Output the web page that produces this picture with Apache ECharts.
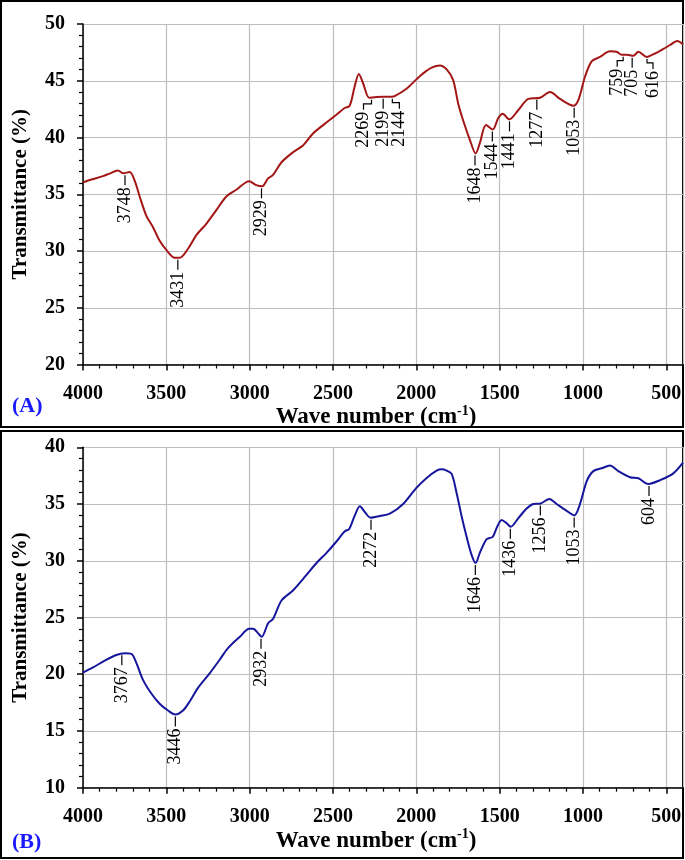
<!DOCTYPE html>
<html>
<head>
<meta charset="utf-8">
<script src="https://cdn.jsdelivr.net/npm/echarts@6/dist/echarts.min.js"></script>
<style>
html,body{margin:0;padding:0;background:#fff;}
#c{width:685px;height:860px;}
</style>
</head>
<body>
<div id="c"></div>
<script>
// ---- Data ----
// Panel A
const wnA = [4000, 3950, 3880, 3844, 3790, 3760, 3720, 3690, 3660, 3620, 3580, 3540, 3500, 3450, 3420, 3370, 3320, 3260, 3200, 3140, 3080, 3003, 2960, 2925, 2890, 2860, 2810, 2740, 2680, 2620, 2550, 2480, 2430, 2400, 2370, 2345, 2320, 2283, 2250, 2200, 2150, 2130, 2059, 2001, 1959, 1908, 1859, 1818, 1779, 1749, 1719, 1679, 1644, 1619, 1582, 1542, 1509, 1482, 1442, 1389, 1328, 1258, 1198, 1138, 1058, 1028, 988, 948, 898, 838, 798, 768, 738, 698, 668, 618, 568, 518, 478, 434, 400];
const tA = [36.05, 36.3, 36.6, 36.8, 37.1, 36.85, 36.95, 36.2, 34.8, 33.1, 32.1, 30.9, 30.1, 29.4, 29.4, 30.2, 31.4, 32.4, 33.6, 34.8, 35.4, 36.15, 35.8, 35.7, 36.4, 36.7, 37.8, 38.7, 39.3, 40.35, 41.2, 42.0, 42.6, 42.8, 44.5, 45.6, 44.8, 43.5, 43.55, 43.6, 43.6, 43.65, 44.3, 45.1, 45.65, 46.15, 46.35, 46.0, 45.06, 43.0, 41.5, 39.8, 38.6, 39.5, 41.1, 40.7, 41.7, 42.1, 41.6, 42.4, 43.4, 43.5, 44.0, 43.4, 42.8, 43.3, 45.35, 46.7, 47.1, 47.6, 47.55, 47.3, 47.3, 47.2, 47.55, 47.1, 47.4, 47.8, 48.15, 48.5, 48.2];
const peakWnA = [3748, 3431, 2929, 2269, 2199, 2144, 1648, 1544, 1441, 1277, 1053, 759, 705, 616];
const peakTA  = [36.85, 29.4, 35.7, 43.5, 43.6, 43.6, 38.6, 40.7, 41.6, 43.5, 42.8, 47.3, 47.2, 47.1];

// Panel B
const wnB = [4000, 3940, 3870, 3800, 3750, 3710, 3680, 3640, 3590, 3540, 3490, 3446, 3400, 3360, 3310, 3239, 3179, 3130, 3059, 3003, 2979, 2949, 2928, 2889, 2859, 2809, 2739, 2659, 2599, 2539, 2479, 2429, 2403, 2369, 2339, 2309, 2275, 2219, 2159, 2079, 2001, 1938, 1878, 1848, 1818, 1788, 1758, 1728, 1698, 1668, 1644, 1619, 1578, 1542, 1518, 1488, 1458, 1434, 1389, 1338, 1298, 1254, 1202, 1158, 1098, 1052, 1018, 978, 938, 888, 838, 788, 718, 668, 608, 538, 458, 400];
const tB = [20.15, 20.6, 21.2, 21.7, 21.85, 21.8, 21.0, 19.5, 18.3, 17.4, 16.8, 16.45, 16.8, 17.6, 18.8, 20.1, 21.3, 22.3, 23.3, 24.0, 24.0, 23.6, 23.3, 24.5, 24.9, 26.5, 27.4, 28.75, 29.8, 30.7, 31.7, 32.6, 32.8, 34.0, 34.8, 34.3, 33.8, 33.95, 34.15, 35.0, 36.4, 37.3, 37.94, 38.06, 37.95, 37.65, 35.95, 33.9, 32.1, 30.5, 29.8, 30.7, 31.9, 32.1, 32.9, 33.6, 33.3, 33.0, 33.74, 34.6, 35.0, 35.05, 35.45, 35.0, 34.4, 34.0, 35.0, 37.0, 37.9, 38.15, 38.4, 37.9, 37.36, 37.27, 36.77, 37.1, 37.7, 38.64];
const peakWnB = [3767, 3446, 2932, 2272, 1646, 1436, 1256, 1053, 604];
const peakTB  = [21.85, 16.45, 23.3, 33.8, 29.8, 33.0, 35.05, 34.0, 36.77];

// Axis ranges
const yRangeA = [20, 50];
const yRangeB = [10, 40];
const xRange = [400, 4000];

// ---- Styles (pixel offsets of elbowed leader labels) ----
const elbowShift = {2269: -8, 2144: 7, 759: -6, 616: 6};

const SERIF = '"Liberation Serif", "Times New Roman", serif';

function xAxis(gi) {
  return {
    type: 'value', gridIndex: gi, min: -xRange[1], max: -xRange[0], interval: 500,
    axisLine: {show: true, onZero: false, lineStyle: {color: '#000', width: 1.5}},
    axisTick: {show: true, length: 6, lineStyle: {color: '#000', width: 1.5}},
    minorTick: {show: true, splitNumber: 5, length: 4, lineStyle: {color: '#000', width: 1.2}},
    splitLine: {show: true, lineStyle: {color: '#bdbdbd', width: 1.2}},
    axisLabel: {formatter: v => String(-v), showMaxLabel: false, margin: 19,
      fontFamily: SERIF, fontWeight: 'bold', fontSize: 20, color: '#000'},
    name: 'Wave number (cm{sup|-1})', nameLocation: 'middle', nameGap: 38,
    nameTextStyle: {fontFamily: SERIF, fontWeight: 'bold', fontSize: 23, color: '#000', lineHeight: 26,
      padding: [0, 14, 0, 0],
      rich: {sup: {fontFamily: SERIF, fontWeight: 'bold', fontSize: 14, color: '#000', verticalAlign: 'top', lineHeight: 16}}}
  };
}
function yAxis(gi, r) {
  return {
    type: 'value', gridIndex: gi, min: r[0], max: r[1], interval: 5,
    axisLine: {show: true, onZero: false, lineStyle: {color: '#000', width: 1.5}},
    axisTick: {show: true, length: 6, lineStyle: {color: '#000', width: 1.5}},
    minorTick: {show: true, splitNumber: 5, length: 4, lineStyle: {color: '#000', width: 1.2}},
    splitLine: {show: true, lineStyle: {color: '#bdbdbd', width: 1.2}},
    axisLabel: {margin: 18, fontFamily: SERIF, fontWeight: 'bold', fontSize: 20, color: '#000'},
    name: 'Transmittance (%)', nameLocation: 'middle', nameGap: 52,
    nameTextStyle: {fontFamily: SERIF, fontWeight: 'bold', fontSize: 21, color: '#000'}
  };
}
function lineSeries(gi, wn, t, color) {
  return {
    type: 'line', xAxisIndex: gi, yAxisIndex: gi, symbol: 'none', smooth: 0.3,
    lineStyle: {color: color, width: 2}, data: wn.map((w, i) => [-w, t[i]]), z: 3, silent: true
  };
}
function annoSeries(gi, wn, t) {
  return {
    type: 'custom', xAxisIndex: gi, yAxisIndex: gi, silent: true, z: 5, clip: false,
    data: wn.map((w, i) => [-w, t[i], w]),
    renderItem: function (params, api) {
      const p = api.coord([api.value(0), api.value(1)]);
      const lab = api.value(2);
      const s = elbowShift[lab] || 0;
      const L = 12;
      let pts;
      if (s) {
        pts = [[p[0], p[1] + 2], [p[0], p[1] + 6], [p[0] + s, p[1] + 6], [p[0] + s, p[1] + L]];
      } else {
        pts = [[p[0], p[1] + 2], [p[0], p[1] + L]];
      }
      return {
        type: 'group',
        children: [
          {type: 'polyline', shape: {points: pts}, style: {stroke: '#000', lineWidth: 1.2, fill: null}},
          {type: 'text', x: p[0] + s, y: p[1] + L + 2, rotation: Math.PI / 2,
            style: {text: String(lab), fill: '#000', fontFamily: SERIF, fontSize: 18,
              align: 'right', verticalAlign: 'middle'}}
        ]
      };
    }
  };
}

const chart = echarts.init(document.getElementById('c'), null, {renderer: 'canvas'});
chart.setOption({
  animation: false,
  backgroundColor: '#fff',
  grid: [
    {left: 83, right: 2, top: 24, height: 340.5},
    {left: 83, right: 2, top: 447.3, height: 340.4}
  ],
  xAxis: [xAxis(0), xAxis(1)],
  yAxis: [yAxis(0, yRangeA), yAxis(1, yRangeB)],
  series: [
    lineSeries(0, wnA, tA, '#a31616'),
    lineSeries(1, wnB, tB, '#16169c'),
    annoSeries(0, peakWnA, peakTA),
    annoSeries(1, peakWnB, peakTB)
  ],
  graphic: [
    {type: 'rect', shape: {x: 1, y: 1, width: 682, height: 426}, style: {fill: null, stroke: '#000', lineWidth: 2}, silent: true},
    {type: 'rect', shape: {x: 1, y: 431, width: 682, height: 427}, style: {fill: null, stroke: '#000', lineWidth: 2}, silent: true},
    {type: 'text', left: 12, top: 395, style: {text: '(A)', fill: '#1a1aff', fontFamily: SERIF, fontWeight: 'bold', fontSize: 22}, silent: true},
    {type: 'text', left: 12, top: 831, style: {text: '(B)', fill: '#1a1aff', fontFamily: SERIF, fontWeight: 'bold', fontSize: 22}, silent: true}
  ]
});
</script>
</body>
</html>
